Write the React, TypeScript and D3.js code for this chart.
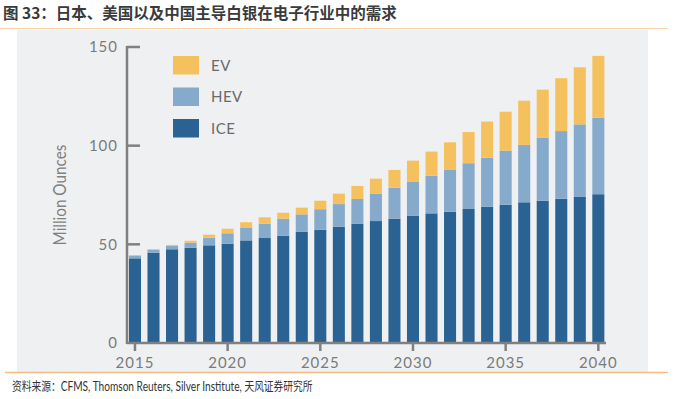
import React from 'react'
import * as d3 from 'd3'

// values (million ounces)
const years = [2015, 2016, 2017, 2018, 2019, 2020, 2021, 2022, 2023, 2024, 2025, 2026, 2027,
  2028, 2029, 2030, 2031, 2032, 2033, 2034, 2035, 2036, 2037, 2038, 2039, 2040]
const ice = [42.9, 45.8, 47.5, 48.3, 49.5, 50.3, 52.0, 53.2, 54.4, 56.3, 57.4, 58.9, 60.5,
  61.8, 63.0, 64.4, 65.7, 66.5, 67.9, 69.1, 70.1, 71.3, 72.1, 73.1, 74.0, 75.4]
const hev = [1.3, 1.5, 1.7, 2.5, 3.9, 5.3, 6.3, 7.3, 8.6, 8.9, 10.4, 11.5, 12.5,
  13.9, 15.7, 17.2, 19.1, 21.2, 23.2, 24.8, 27.4, 29.1, 32.0, 34.3, 36.8, 38.8]
const ev = [0.4, 0.3, 0.5, 1.0, 1.5, 2.3, 2.9, 3.2, 3.0, 3.4, 4.3, 5.3, 6.6,
  7.6, 9.0, 10.8, 12.2, 14.0, 15.8, 18.3, 19.7, 22.4, 24.3, 26.8, 28.9, 31.3]
const seriesKeys = ['ICE', 'HEV', 'EV']
const legendOrder = ['EV', 'HEV', 'ICE']
const yTicks = [0, 50, 100, 150]
const xTicks = [2015, 2020, 2025, 2030, 2035, 2040]

const colors: Record<string, string> = { ICE: '#2a6393', HEV: '#86aacb', EV: '#f5c15f' }
const axisColor = '#808080'
const labelColor = '#7b7b7b'
const cjk = "'Noto Sans CJK SC', sans-serif"

export default function App() {
  const rows = years.map((year, i) => ({ year, ICE: ice[i], HEV: hev[i], EV: ev[i] }))
  const stacked = d3.stack<any>().keys(seriesKeys)(rows)

  const x = d3.scaleBand<number>()
    .domain(years)
    .range([125.7, 607.6])
    .paddingInner(0.35)
    .paddingOuter(0.175)
  const y = d3.scaleLinear().domain([0, 150]).range([343, 47])

  const axisLeft = 127
  const axisRight = 606
  const center = (yr: number) => (x(yr) as number) + x.bandwidth() / 2

  return (
    <svg width={675} height={399} style={{ position: 'absolute', left: 0, top: 0 }}
      fontFamily="Lato, 'Noto Sans', sans-serif">
      <rect x={0} y={0} width={675} height={399} fill="#ffffff" />
      {/* title */}
      <text x={3} y={18.5} fontSize={15.5} fontWeight={700} fill="#3a3a3a"
        fontFamily={cjk}>图 33：日本、美国以及中国主导白银在电子行业中的需求</text>
      <line x1={0} x2={668} y1={28.5} y2={28.5} stroke="#f6d3ab" strokeWidth={1.2} />

      {/* chart panel */}
      <rect x={17} y={30} width={631} height={342} fill="#eff0f2" />

      {/* bars */}
      {stacked.map(s => (
        <g key={s.key} fill={colors[s.key]}>
          {s.map((d, i) => (
            <rect key={i} x={x(d.data.year)} y={y(d[1])} width={x.bandwidth()}
              height={Math.max(0, y(d[0]) - y(d[1]))} />
          ))}
        </g>
      ))}

      {/* y axis */}
      <line x1={axisLeft} x2={axisLeft} y1={y(150) - 1} y2={y(0) + 1} stroke={axisColor} strokeWidth={2.5} />
      {yTicks.map(t => (
        <g key={t}>
          {t > 0 && <line x1={axisLeft} x2={axisLeft + 13} y1={y(t)} y2={y(t)} stroke={axisColor} strokeWidth={2.5} />}
          <text x={118} y={y(t)} dy="0.36em" textAnchor="end" fontSize={15} fill={labelColor}
            letterSpacing={1}>{t}</text>
        </g>
      ))}
      <text transform={`translate(66,195) rotate(-90) scale(0.9,1)`} textAnchor="middle" fontSize={17}
        fill={axisColor}>Million Ounces</text>

      {/* x axis */}
      <line x1={axisLeft} x2={axisRight} y1={y(0)} y2={y(0)} stroke={axisColor} strokeWidth={2.5} />
      {xTicks.map(t => (
        <g key={t}>
          <line x1={center(t)} x2={center(t)} y1={y(0)} y2={y(0) + 8} stroke={axisColor} strokeWidth={2.5} />
          <text x={center(t)} y={363} dy="0.36em" textAnchor="middle" fontSize={15} fill={labelColor}
            letterSpacing={1}>{t}</text>
        </g>
      ))}

      {/* legend */}
      {legendOrder.map((k, i) => (
        <g key={k} transform={`translate(173,${56 + i * 31.5})`}>
          <rect width={26} height={18.5} fill={colors[k]} />
          <text x={38} y={9.5} dy="0.36em" fontSize={15} fill="#6a6a6a" letterSpacing={0.5}>{k}</text>
        </g>
      ))}

      {/* footer */}
      <line x1={5} x2={668} y1={372.5} y2={372.5} stroke="#f4bb87" strokeWidth={1.5} />
      <text transform="translate(12,390.5) scale(0.78,1)" fontSize={13} fill="#333">
        <tspan fontFamily={cjk} fontSize={12.5}>资料来源：</tspan>
        <tspan>CFMS, Thomson Reuters, Silver Institute, </tspan>
        <tspan fontFamily={cjk} fontSize={12.5}>天风证券研究所</tspan>
      </text>
    </svg>
  )
}
